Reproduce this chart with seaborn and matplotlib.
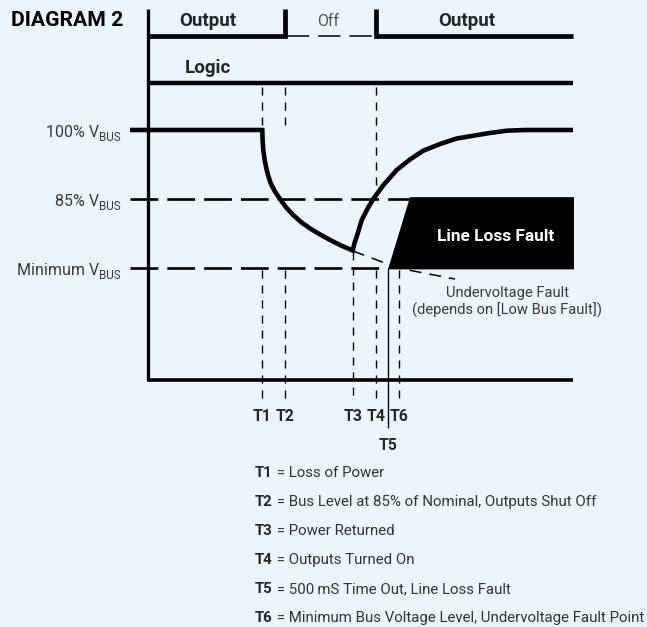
import numpy as np
import pandas as pd
import matplotlib
matplotlib.use("Agg")
import matplotlib.pyplot as plt
import seaborn as sns
from matplotlib import font_manager as fm

# ---------------- data ----------------
marker_names = ["T1", "T2", "T3", "T4", "T5", "T6"]
marker_times = [114, 137, 205, 228, 240, 251]          # time units
t_end = 425

level_labels = ["100% V", "85% V", "Minimum V"]
level_values = [100, 85, 70]                            # % of V_BUS
axis_floor = 45.65
logic_level = 110.2
output_level = 120.4
output_edge_top = 126.2

# bus voltage: falling part (T1 -> T3) and recovery (T3 -> end)
decay_t = [114.3, 114.6, 115.3, 116.4, 118.0, 120.0, 122.7, 127.0, 132.0, 138.0,
           145.3, 153.0, 162.0, 172.0, 182.0, 193.0, 204.7]
decay_v = [100.0, 97.8, 95.65, 93.8, 92.0, 90.2, 88.4, 86.6, 85.0, 83.2,
           81.5, 80.0, 78.6, 77.3, 76.1, 74.9, 73.8]
rise_t = [206.5, 208.7, 213.7, 220.3, 225.3, 235.3, 248.7, 262.0, 275.3, 292.0,
          308.7, 325.0, 342.0, 359.0, 377.0, 425.0]
rise_v = [75.4, 76.8, 80.4, 83.2, 85.0, 88.0, 91.3, 93.6, 95.5, 96.95,
          98.15, 98.75, 99.35, 99.85, 100.0, 100.0]
# undervoltage projection (dashed continuation of the decay)
proj_t = [205, 250, 307]
proj_v = [73.7, 70.0, 67.6]
# line-loss fault region
fault_t = [240, 262, 426, 426]
fault_v = [69.7, 85.4, 85.4, 69.7]

legend_keys = ["T1", "T2", "T3", "T4", "T5", "T6"]
legend_text = ["Loss of Power",
               "Bus Level at 85% of Nominal, Outputs Shut Off",
               "Power Returned",
               "Outputs Turned On",
               "500\u2009mS Time Out, Line Loss Fault",
               "Minimum Bus Voltage Level, Undervoltage Fault Point"]

# ---------------- styling ----------------
names = {f.name for f in fm.fontManager.ttflist}
FONT = "Liberation Sans Narrow" if "Liberation Sans Narrow" in names else "Roboto"
BG = "#EAF6FC"
sns.set_theme(style="white", rc={"axes.facecolor": BG, "figure.facecolor": BG})
plt.rcParams["font.family"] = [FONT, "DejaVu Sans"]
plt.rcParams["lines.scale_dashes"] = False
plt.rcParams["lines.solid_capstyle"] = "butt"
plt.rcParams["lines.dash_capstyle"] = "butt"

fig = plt.figure(figsize=(6.47, 6.27), dpi=100, facecolor=BG)
ax = fig.add_axes([0, 0, 1, 1])
ax.set_facecolor(BG)


def P(px, py):
    """pixel position -> data position (used for text placement only)"""
    return (px - 148, 100 - (py - 130) / 4.6)


T = dict(zip(marker_names, marker_times))
V100, V85, VMIN = level_values
lvl_start = -18
K = "black"

# axes
ax.plot([0, 0], [axis_floor - 0.3, output_edge_top], color=K, lw=2.4)
ax.plot([0, t_end], [axis_floor, axis_floor], color=K, lw=2.6)

# output trace
ax.plot([0, T["T2"], T["T2"]], [output_level, output_level, output_edge_top],
        color=K, lw=3.4, solid_joinstyle="miter")
ax.plot([T["T4"], T["T4"], t_end], [output_edge_top, output_level, output_level],
        color=K, lw=3.4, solid_joinstyle="miter")
ax.plot([T["T2"] + 2, T["T4"]], [output_level, output_level], color=K, lw=1.1,
        dashes=(16, 6.5))
# logic trace
ax.plot([0, t_end], [logic_level, logic_level], color=K, lw=3.2)

# level reference lines
ax.plot([lvl_start, fault_t[1]], [V85, V85], color=K, lw=1.9, dashes=(20, 6.5))
ax.plot([lvl_start, fault_t[0]], [VMIN, VMIN], color=K, lw=1.9, dashes=(20, 6.5))

# fault polygon
ax.fill(fault_t, fault_v, color=K, lw=0)

# time marker dashes
tdash = dict(color=K, lw=1.0, dashes=(5.8, 5.0))
top_y = logic_level - 0.9
low_y = 41.7
for n in ["T1", "T2"]:
    ax.plot([T[n], T[n]], [top_y, V100], **tdash)
ax.plot([T["T4"], T["T4"]], [top_y, 86.5], **tdash)
for n in ["T1", "T2", "T4", "T6"]:
    ax.plot([T[n], T[n]], [VMIN - 0.4, low_y], **tdash)
ax.plot([T["T3"], T["T3"]], [decay_v[-1] - 0.4, low_y], **tdash)
ax.plot([T["T5"], T["T5"]], [VMIN, 35.2], color=K, lw=1.0)

# bus voltage curve
curve = pd.DataFrame({"t": [lvl_start] + decay_t + rise_t,
                      "v": [V100] + decay_v + rise_v})
sns.lineplot(data=curve, x="t", y="v", sort=False, estimator=None, color=K,
             lw=3.3, ax=ax, solid_joinstyle="miter")
proj = pd.DataFrame({"t": proj_t, "v": proj_v})
sns.lineplot(data=proj, x="t", y="v", sort=False, estimator=None, color=K,
             lw=1.1, ax=ax, dashes=False, linestyle=(0, (8.6, 5.8)))
ax.set_xlim(-148, 499)
ax.set_ylim(-8.043, 128.26)
ax.axis("off")

# ---------------- text ----------------
ax.text(*P(11, 26), "DIAGRAM 2", fontsize=15.2, fontweight="bold", color=K,
        ha="left", va="baseline")
ax.text(*P(207.5, 26.5), "Output", fontsize=13.5, fontweight="bold", ha="center", va="baseline")
ax.text(*P(328, 26), "Off", fontsize=11.5, color="#555555", ha="center", va="baseline")
ax.text(*P(467, 26), "Output", fontsize=13.5, fontweight="bold", ha="center", va="baseline")
ax.text(*P(207.5, 72.7), "Logic", fontsize=13.5, fontweight="bold", ha="center", va="baseline")

for lab, v in zip(level_labels, level_values):
    sub = ax.text(P(121, 0)[0], v - 10.7 / 4.6, "BUS", fontsize=8.4,
                  color="#3a3a3a", ha="right", va="baseline")
    ax.annotate(lab, xy=(0, v - 7 / 4.6), xycoords=(sub, "data"), fontsize=11.5,
                color="#3a3a3a", ha="right", va="baseline")

for n, t in zip(marker_names, marker_times):
    y = P(0, 450)[1] if n == "T5" else P(0, 420.7)[1]
    ax.text(t, y, n, fontsize=11.3, fontweight="bold", ha="center", va="baseline")

ax.text(*P(495.5, 241), "Line Loss Fault", fontsize=12.4, fontweight="bold",
        color="white", ha="center", va="baseline")
ax.text(*P(507.5, 297.3), "Undervoltage Fault", fontsize=10.6, color="#3a3a3a",
        ha="center", va="baseline")
ax.text(*P(507.5, 315), "(depends on [Low Bus Fault])", fontsize=10.6, color="#3a3a3a",
        ha="center", va="baseline")

for i, (k, txt) in enumerate(zip(legend_keys, legend_text)):
    bx, by = P(255, 477.3 + i * 28.9)
    kt = ax.text(bx, by, k, fontsize=10.8, fontweight="bold", ha="left", va="baseline")
    ax.annotate(" = " + txt, xy=(1, by), xycoords=(kt, "data"), fontsize=10.8,
                color="#333333", ha="left", va="baseline")

fig.savefig("out.png", dpi=100, facecolor=BG)
